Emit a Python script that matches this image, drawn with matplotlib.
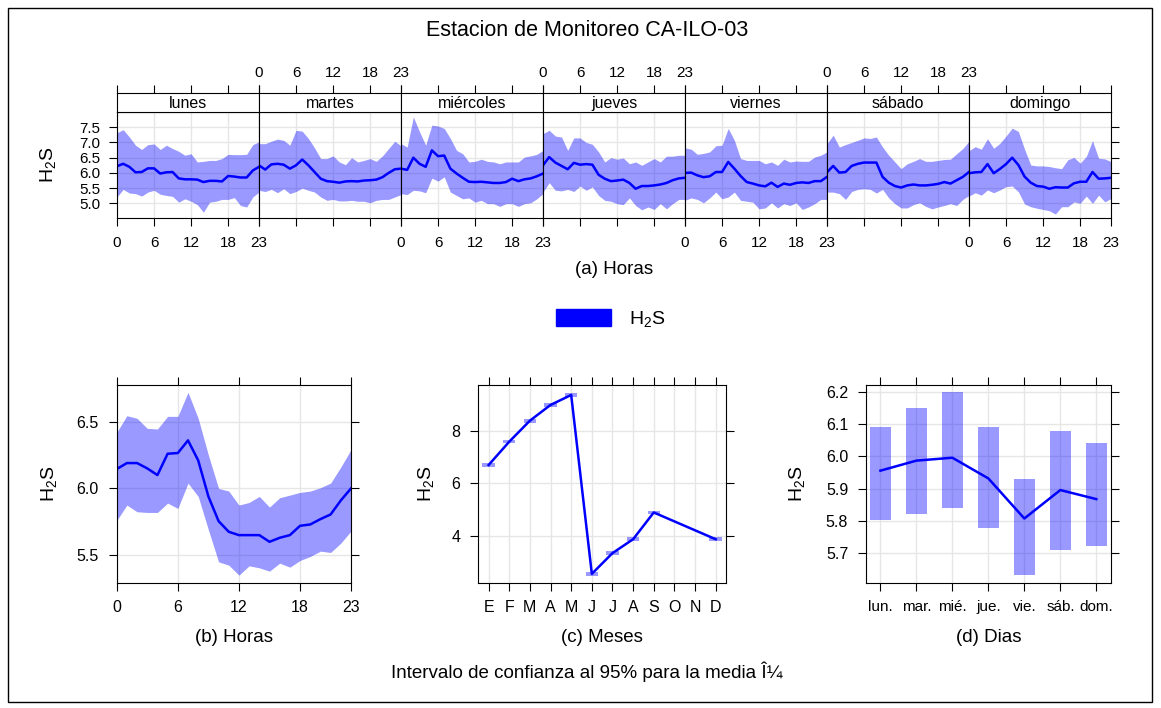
import matplotlib
matplotlib.use("Agg")
import matplotlib.pyplot as plt
from matplotlib.patches import Patch, Rectangle

plt.rcParams["font.family"] = ["Liberation Sans", "DejaVu Sans"]
plt.rcParams["mathtext.default"] = "regular"

W, H = 1161, 708

HOURS = list(range(24))
DAYS = ["lunes", "martes", "miércoles", "jueves", "viernes", "sábado", "domingo"]

# hourly mean / lower / upper per weekday (panel a)
lun_mean = [6.22, 6.30, 6.20, 6.02, 6.03, 6.15, 6.15, 5.98, 6.02, 6.03, 5.82, 5.79,
            5.79, 5.78, 5.70, 5.74, 5.74, 5.72, 5.90, 5.88, 5.85, 5.85, 6.08, 6.20]
lun_up = [7.32, 7.42, 7.18, 6.91, 6.77, 6.93, 6.95, 6.77, 6.91, 6.80, 6.71, 6.58,
          6.63, 6.36, 6.38, 6.41, 6.41, 6.47, 6.61, 6.60, 6.60, 6.61, 6.93, 7.02]
lun_low = [5.21, 5.46, 5.34, 5.32, 5.24, 5.37, 5.43, 5.30, 5.26, 5.23, 5.04, 5.15,
           5.07, 4.96, 4.71, 5.04, 5.07, 5.13, 5.13, 5.19, 4.93, 4.88, 5.21, 5.37]

mar_mean = [6.25, 6.11, 6.28, 6.30, 6.27, 6.14, 6.25, 6.44, 6.25, 6.03, 5.81, 5.73,
            5.71, 5.68, 5.72, 5.73, 5.72, 5.75, 5.76, 5.78, 5.86, 6.00, 6.12, 6.14]
mar_up = [6.96, 6.96, 7.04, 7.11, 7.07, 6.91, 7.40, 7.37, 7.13, 6.82, 6.47, 6.47,
          6.56, 6.36, 6.27, 6.50, 6.36, 6.41, 6.47, 6.38, 6.56, 6.80, 7.04, 6.89]
mar_low = [5.43, 5.39, 5.46, 5.35, 5.48, 5.32, 5.39, 5.50, 5.43, 5.37, 5.21, 5.10,
           5.13, 5.08, 5.08, 5.10, 5.07, 5.07, 5.02, 5.10, 5.13, 5.13, 5.21, 5.29]

mie_mean = [6.14, 6.10, 6.50, 6.30, 6.20, 6.74, 6.55, 6.57, 6.14, 5.98, 5.84, 5.71,
            5.70, 5.71, 5.69, 5.67, 5.67, 5.70, 5.81, 5.73, 5.79, 5.82, 5.89, 5.98]
mie_up = [6.96, 6.85, 7.84, 7.35, 6.91, 7.57, 7.54, 7.46, 7.13, 6.74, 6.63, 6.36,
          6.38, 6.45, 6.38, 6.36, 6.30, 6.36, 6.36, 6.36, 6.52, 6.56, 6.61, 6.74]
mie_low = [5.32, 5.29, 5.43, 5.41, 5.35, 5.83, 5.73, 5.87, 5.37, 5.26, 5.15, 5.18,
           5.04, 5.10, 4.99, 4.99, 4.90, 4.99, 4.99, 4.90, 4.99, 5.02, 5.15, 5.32]

jue_mean = [6.25, 6.52, 6.34, 6.23, 6.12, 6.33, 6.27, 6.29, 6.27, 5.94, 5.81, 5.73,
            5.75, 5.78, 5.67, 5.48, 5.57, 5.57, 5.59, 5.62, 5.67, 5.76, 5.82, 5.84]
jue_up = [7.29, 7.40, 7.21, 7.18, 6.74, 7.15, 7.15, 7.00, 6.94, 6.69, 6.36, 6.50,
          6.45, 6.49, 6.30, 6.36, 6.25, 6.36, 6.47, 6.36, 6.55, 6.55, 6.58, 6.58]
jue_low = [5.37, 5.68, 5.43, 5.41, 5.46, 5.39, 5.57, 5.43, 5.54, 5.26, 5.10, 5.07,
           4.99, 4.96, 5.18, 4.93, 4.79, 4.88, 4.80, 4.99, 4.82, 4.99, 5.13, 5.13]

vie_mean = [6.00, 6.01, 5.92, 5.86, 5.89, 6.03, 6.03, 6.36, 6.14, 5.90, 5.70, 5.65,
            5.59, 5.56, 5.68, 5.54, 5.65, 5.61, 5.67, 5.69, 5.67, 5.73, 5.73, 5.87]
vie_up = [6.82, 6.78, 6.61, 6.64, 6.69, 6.89, 6.91, 7.46, 7.07, 6.47, 6.41, 6.41,
          6.41, 6.30, 6.36, 6.25, 6.45, 6.36, 6.39, 6.38, 6.38, 6.52, 6.58, 6.69]
vie_low = [5.10, 5.18, 5.13, 5.02, 5.18, 5.37, 5.15, 5.21, 5.37, 5.10, 5.07, 5.04,
           4.82, 4.85, 5.02, 4.85, 4.99, 4.93, 5.02, 4.80, 4.88, 4.99, 5.13, 5.13]

sab_mean = [6.02, 6.23, 6.01, 6.03, 6.23, 6.30, 6.34, 6.34, 6.34, 5.87, 5.68, 5.57,
            5.52, 5.59, 5.62, 5.59, 5.59, 5.61, 5.64, 5.70, 5.65, 5.76, 5.87, 6.03]
sab_up = [6.96, 7.24, 6.85, 6.93, 7.00, 7.07, 7.15, 7.13, 7.18, 6.85, 6.58, 6.36,
          6.14, 6.30, 6.38, 6.47, 6.38, 6.38, 6.41, 6.44, 6.45, 6.63, 6.80, 7.04]
sab_low = [5.37, 5.37, 5.32, 5.13, 5.39, 5.46, 5.48, 5.46, 5.34, 5.46, 5.18, 4.99,
           4.85, 4.85, 4.96, 5.02, 4.90, 4.82, 4.88, 4.93, 4.99, 4.93, 5.13, 5.26]

dom_mean = [5.99, 6.02, 6.03, 6.29, 5.99, 6.13, 6.29, 6.50, 6.26, 5.88, 5.68, 5.57,
            5.55, 5.48, 5.53, 5.52, 5.52, 5.66, 5.71, 5.71, 6.03, 5.81, 5.82, 5.84]
dom_up = [6.73, 6.86, 6.78, 7.12, 6.81, 6.97, 7.21, 7.47, 7.36, 6.78, 6.26, 6.23,
          6.23, 6.21, 6.17, 6.14, 6.43, 6.51, 6.32, 6.54, 7.06, 6.48, 6.46, 6.37]
dom_low = [5.24, 5.35, 5.27, 5.44, 5.35, 5.44, 5.55, 5.57, 5.38, 4.98, 4.89, 4.84,
           4.80, 4.76, 4.65, 4.89, 4.89, 5.05, 5.00, 5.24, 5.00, 5.27, 5.05, 5.16]

week_mean = [lun_mean, mar_mean, mie_mean, jue_mean, vie_mean, sab_mean, dom_mean]
week_up = [lun_up, mar_up, mie_up, jue_up, vie_up, sab_up, dom_up]
week_low = [lun_low, mar_low, mie_low, jue_low, vie_low, sab_low, dom_low]

# panel b: all days, by hour
hour_mean = [6.145, 6.19, 6.19, 6.15, 6.10, 6.26, 6.265, 6.36, 6.21, 5.94, 5.755, 5.675,
             5.65, 5.65, 5.65, 5.60, 5.63, 5.65, 5.72, 5.73, 5.77, 5.805, 5.91, 6.00]
hour_up = [6.42, 6.545, 6.525, 6.45, 6.445, 6.54, 6.54, 6.72, 6.525, 6.25, 6.00, 5.98,
           5.875, 5.895, 5.94, 5.86, 5.93, 5.95, 5.97, 5.98, 6.005, 6.04, 6.16, 6.29]
hour_low = [5.76, 5.875, 5.825, 5.82, 5.82, 5.89, 5.85, 6.04, 5.94, 5.69, 5.45, 5.425,
            5.35, 5.42, 5.405, 5.38, 5.44, 5.41, 5.46, 5.49, 5.53, 5.52, 5.59, 5.68]

# panel c: months (Oct and Nov missing)
MONTH_LABELS = ["E", "F", "M", "A", "M", "J", "J", "A", "S", "O", "N", "D"]
month_num = [1, 2, 3, 4, 5, 6, 7, 8, 9, 12]
month_mean = [6.70, 7.59, 8.39, 8.99, 9.37, 2.55, 3.34, 3.87, 4.89, 3.87]
month_low = [6.63, 7.52, 8.32, 8.92, 9.29, 2.48, 3.27, 3.81, 4.84, 3.79]
month_up = [6.78, 7.66, 8.46, 9.06, 9.46, 2.63, 3.41, 3.94, 4.95, 3.96]

# panel d: weekdays
WDAY_LABELS = ["lun.", "mar.", "mié.", "jue.", "vie.", "sáb.", "dom."]
wday_mean = [5.956, 5.987, 5.996, 5.932, 5.808, 5.896, 5.868]
wday_up = [6.090, 6.149, 6.198, 6.090, 5.930, 6.078, 6.042]
wday_low = [5.804, 5.822, 5.839, 5.780, 5.632, 5.711, 5.722]

FILL = "blue"
ALPHA = 0.4
GRID = "#e6e6e6"
TICK_LEN = 5.8
TICK_FS = 11.5
LABEL_FS = 13.5
YLAB_FS = 14


def axes_px(fig, x0, y0, x1, y1):
    return fig.add_axes([x0 / W, 1 - y1 / H, (x1 - x0) / W, (y1 - y0) / H])


def style(ax):
    for sp in ax.spines.values():
        sp.set_linewidth(0.8)
        sp.set_color("black")
    ax.grid(True, color=GRID, lw=1)
    ax.set_axisbelow(True)
    ax.tick_params(direction="out", length=TICK_LEN, width=0.8, colors="black",
                   labelsize=TICK_FS, pad=7)


fig = plt.figure(figsize=(W / 100, H / 100), dpi=100)

fig.add_artist(Rectangle((8 / W, 1 - 702 / H), (1152 - 8) / W, (702 - 8) / H,
                         transform=fig.transFigure, fill=False, lw=1, ec="black"))
fig.text(587 / W, 1 - 30 / H, "Estacion de Monitoreo CA-ILO-03", ha="center",
         va="center", fontsize=15.5)

# ---- panel a: hour by weekday
for i, day in enumerate(DAYS):
    x0 = 117 + i * 142
    x1 = x0 + 142
    ax = axes_px(fig, x0, 111.7, x1, 218.3)
    style(ax)
    ax.fill_between(HOURS, week_low[i], week_up[i], color=FILL, alpha=ALPHA, lw=0)
    ax.plot(HOURS, week_mean[i], color="blue", lw=1.8)
    ax.set_xlim(0, 23)
    ax.set_ylim(4.51, 8.01)
    ax.set_xticks([0, 6, 12, 18, 23])
    ax.set_yticks([5.0, 5.5, 6.0, 6.5, 7.0, 7.5])
    ax.tick_params(axis="x", labelbottom=(i % 2 == 0), labelsize=11, pad=7)
    ax.tick_params(axis="y", left=(i == 0), labelleft=(i == 0), right=(i == 6),
                   labelright=False, labelsize=11, pad=6)
    if i == 0:
        ax.set_ylabel("H$_2$S", fontsize=YLAB_FS, va="center")
        ax.yaxis.set_label_coords(-(117 - 48) / 142, 0.5)

    strip = axes_px(fig, x0, 93.3, x1, 111.7)
    for sp in strip.spines.values():
        sp.set_linewidth(0.8)
    strip.set_xlim(0, 23)
    strip.set_xticks([0, 6, 12, 18, 23])
    strip.set_yticks([])
    strip.tick_params(axis="x", direction="out", length=TICK_LEN, width=0.8,
                      bottom=False, labelbottom=False, top=True,
                      labeltop=(i % 2 == 1), labelsize=11, pad=4)
    strip.text(0.5, 0.45, day, transform=strip.transAxes, ha="center",
               va="center", fontsize=11.5)

fig.text(614 / W, 1 - 270 / H, "(a) Horas", ha="center", va="center", fontsize=LABEL_FS)

fig.legend(handles=[Patch(color="blue")], labels=["H$_2$S"], loc="center",
           bbox_to_anchor=(611 / W, 1 - 319 / H), frameon=False, fontsize=14,
           handlelength=2.8, handleheight=0.95, handletextpad=0.95)

# ---- panel b: hour
ax = axes_px(fig, 116.7, 385, 351, 582.5)
style(ax)
ax.fill_between(HOURS, hour_low, hour_up, color=FILL, alpha=ALPHA, lw=0)
ax.plot(HOURS, hour_mean, color="blue", lw=1.8)
ax.set_xlim(0, 23)
ax.set_ylim(5.295, 6.775)
ax.set_xticks([0, 6, 12, 18, 23])
ax.set_yticks([5.5, 6.0, 6.5])
ax.tick_params(top=True, right=True)
ax.set_ylabel("H$_2$S", fontsize=YLAB_FS, va="center")
ax.yaxis.set_label_coords(-(116.7 - 49) / 234.3, 0.5)
ax.set_xlabel("(b) Horas", fontsize=LABEL_FS, va="center")
ax.xaxis.set_label_coords(0.5, -(637 - 582.5) / 197.5)

# ---- panel c: month
ax = axes_px(fig, 478.3, 385, 726, 582.5)
style(ax)
ax.bar(month_num, [u - l for u, l in zip(month_up, month_low)], bottom=month_low,
       width=0.6, color=FILL, alpha=ALPHA, lw=0)
ax.plot(month_num, month_mean, color="blue", lw=1.8)
ax.set_xlim(0.5, 12.5)
ax.set_ylim(2.22, 9.75)
ax.set_xticks(range(1, 13))
ax.set_xticklabels(MONTH_LABELS)
ax.set_yticks([4, 6, 8])
ax.tick_params(top=True, right=True)
ax.set_ylabel("H$_2$S", fontsize=YLAB_FS, va="center")
ax.yaxis.set_label_coords(-(478.3 - 426) / 247.7, 0.5)
ax.set_xlabel("(c) Meses", fontsize=LABEL_FS, va="center")
ax.xaxis.set_label_coords(0.5, -(637 - 582.5) / 197.5)

# ---- panel d: weekday
ax = axes_px(fig, 866, 385, 1110.7, 582.5)
style(ax)
wx = list(range(len(WDAY_LABELS)))
ax.bar(wx, [u - l for u, l in zip(wday_up, wday_low)], bottom=wday_low,
       width=0.6, color=FILL, alpha=ALPHA, lw=0)
ax.plot(wx, wday_mean, color="blue", lw=1.8)
ax.set_xlim(-0.4, 6.4)
ax.set_ylim(5.61, 6.221)
ax.set_xticks(wx)
ax.set_xticklabels(WDAY_LABELS)
ax.tick_params(axis="x", labelsize=11)
ax.set_yticks([5.7, 5.8, 5.9, 6.0, 6.1, 6.2])
ax.tick_params(top=True, right=True)
ax.set_ylabel("H$_2$S", fontsize=YLAB_FS, va="center")
ax.yaxis.set_label_coords(-(866 - 797) / 244.7, 0.5)
ax.set_xlabel("(d) Dias", fontsize=LABEL_FS, va="center")
ax.xaxis.set_label_coords(0.5, -(637 - 582.5) / 197.5)

fig.text(587 / W, 1 - 672 / H, "Intervalo de confianza al 95% para la media Î¼",
         ha="center", va="center", fontsize=13.5)

fig.savefig("out.png", dpi=100)
